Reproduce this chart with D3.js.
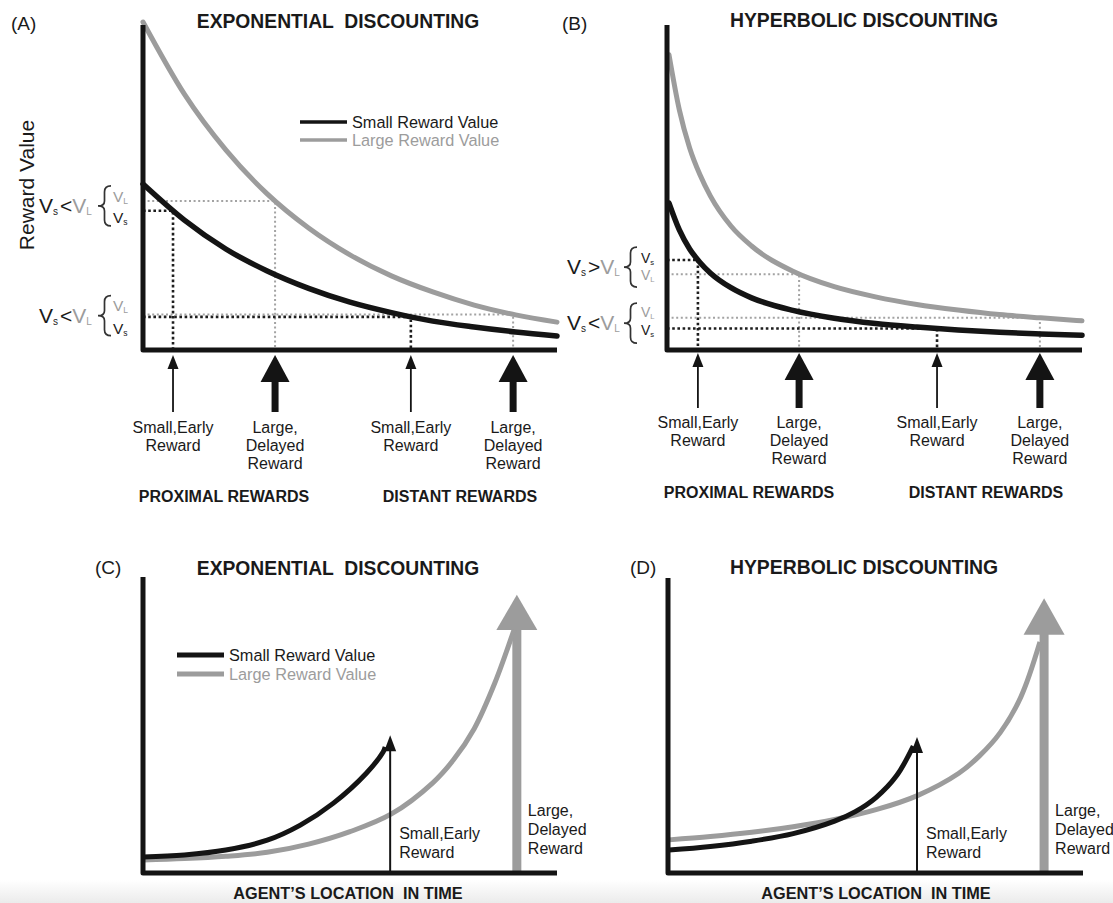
<!DOCTYPE html>
<html><head><meta charset="utf-8">
<script src="https://cdn.jsdelivr.net/npm/d3@7/dist/d3.min.js"></script>
<style>
body{margin:0;background:#fff}
svg{display:block}
text{font-family:"Liberation Sans",Arial,Helvetica,sans-serif;white-space:pre}
</style>
</head><body>
<svg id="c" width="1113" height="903"></svg>
<script>
// ---------------- DATA ----------------
// Panel A: exponential discounting, value vs. time (0..10)
const timeA = [0,1,2,3,4,5,6,7,8,9,10];
const largeA = [10.0,7.8,6.1,4.76,3.72,2.9,2.26,1.77,1.37,1.07,0.85];
const smallA = [5.06,3.96,3.08,2.41,1.88,1.46,1.14,0.88,0.70,0.55,0.43];
const rewardTimesA = [0.725,3.19,6.47,8.94];

// Panel B: hyperbolic discounting
const timeB = [0,0.25,0.5,0.75,1,1.5,2,3,4,5,6,7,8,9,10];
const largeB = [9.0,7.32,6.16,5.34,4.70,3.78,3.17,2.40,1.93,1.62,1.39,1.22,1.08,0.98,0.89];
const smallB = [4.48,3.66,3.08,2.67,2.35,1.90,1.59,1.21,0.97,0.81,0.70,0.61,0.54,0.49,0.45];
const rewardTimesB = [0.70,3.15,6.49,8.98];

const rewardKinds = ["small","large","small","large"];
const rewardText = {small:["Small,Early","Reward"], large:["Large,","Delayed","Reward"]};
const groupLabels = ["PROXIMAL REWARDS","DISTANT REWARDS"];

// Panel C: exponential, value vs. agent's location
const smallTimeC = [0,1,2,3,3.8,4.6,5.4,5.8,5.85];
const smallC = [0.49,0.55,0.70,1.0,1.46,2.13,3.05,3.69,3.84];
const largeTimeC = [0,1,2,3,4,5,6,7,7.5,8,8.5,8.96];
const largeC = [0.40,0.44,0.51,0.63,0.88,1.26,1.80,2.75,3.45,4.40,5.80,7.41];
const arrowsC = {small:{t:5.97, tip:4.2}, large:{t:9.03, tip:8.48, base:7.41}};

// Panel D: hyperbolic, value vs. agent's location
const smallTimeD = [0,1,2,3,4,4.5,5,5.5,5.9];
const smallD = [0.70,0.81,0.97,1.20,1.58,1.87,2.30,2.97,3.87];
const largeTimeD = [0,1,2,3,4,5,6,7,7.5,8,8.5,8.96];
const largeD = [1.01,1.11,1.24,1.41,1.63,1.93,2.36,3.04,3.57,4.28,5.37,7.04];
const arrowsD = {small:{t:5.99, tip:4.15}, large:{t:9.06, tip:8.38, base:7.26}};

const legendLabels = ["Small Reward Value","Large Reward Value"];

// ---------------- DRAW ----------------
const BLACK = "#141414", GRAY = "#9c9c9c", TXT = "#1a1a1a";
const svg = d3.select("#c");

// faint grey band at the bottom of the figure
const defs = svg.append("defs");
const grad = defs.append("linearGradient").attr("id","band").attr("x1",0).attr("x2",0).attr("y1",0).attr("y2",1);
grad.append("stop").attr("offset",0).attr("stop-color","#ffffff");
grad.append("stop").attr("offset",1).attr("stop-color","#ebebeb");
svg.append("rect").attr("x",0).attr("y",880).attr("width",1113).attr("height",23).attr("fill","url(#band)");

function scales(x0,x1,yb,yt){
  return {x:d3.scaleLinear().domain([0,10]).range([x0,x1]),
          y:d3.scaleLinear().domain([0,10]).range([yb,yt])};
}
const A = scales(143,557,350,22);
const B = scales(669,1082,350,22);
const C = scales(143,557,873,545);
const D = scales(669,1083,873,545);

function lineGen(s,curve){ return d3.line().x(d=>s.x(d[0])).y(d=>s.y(d[1])).curve(curve||d3.curveMonotoneX); }

function yAtX(node,x){
  const L=node.getTotalLength(); let lo=0,hi=L;
  for(let i=0;i<40;i++){const m=(lo+hi)/2; if(node.getPointAtLength(m).x<x) lo=m; else hi=m;}
  return node.getPointAtLength((lo+hi)/2).y;
}

function text(g,x,y,str,opt={}){
  return g.append("text").attr("x",x).attr("y",y).text(str)
    .attr("font-size",opt.size||16).attr("font-weight",opt.bold?"bold":"normal")
    .attr("fill",opt.fill||TXT).attr("text-anchor",opt.anchor||"start");
}

function axes(g,ax,top,base,right){
  g.append("path").attr("d",`M${ax},${top}L${ax},${base}L${right},${base}`)
   .attr("fill","none").attr("stroke",BLACK).attr("stroke-width",5).attr("stroke-linejoin","round");
}

function upArrow(g,x,yb,tip,hw,hh,sw,col){
  g.append("line").attr("x1",x).attr("x2",x).attr("y1",yb).attr("y2",tip+hh-1)
   .attr("stroke",col).attr("stroke-width",sw);
  g.append("path").attr("d",`M${x},${tip}L${x+hw/2},${tip+hh}L${x-hw/2},${tip+hh}Z`).attr("fill",col);
}

function brace(g,xr,yt,yb,w){
  const m=(yt+yb)/2, xm=xr-w/2, xl=xr-w;
  g.append("path").attr("d",
    `M${xr},${yt}Q${xm},${yt} ${xm},${yt+6}L${xm},${m-5}Q${xm},${m} ${xl},${m}Q${xm},${m} ${xm},${m+5}L${xm},${yb-6}Q${xm},${yb} ${xr},${yb}`)
   .attr("fill","none").attr("stroke","#333").attr("stroke-width",1.7);
}

function vLabel(g,x,y,sub,col,size){
  const t=g.append("text").attr("x",x).attr("y",y).attr("font-size",size).attr("fill",col);
  t.append("tspan").text("V");
  t.append("tspan").text(sub).attr("font-size",size*0.55).attr("dy",2);
  return t;
}

function bracketLabel(g,x0,braceR,stackX,yc,op,topIsL,offs,fs){
  const t=g.append("text").attr("x",x0).attr("y",yc+7).attr("font-size",21).attr("fill",TXT);
  t.append("tspan").text("V");
  t.append("tspan").text("s").attr("font-size",10).attr("dy",2);
  t.append("tspan").text(op).attr("dy",-2).attr("dx",2);
  t.append("tspan").text("V").attr("fill",GRAY);
  t.append("tspan").text("L").attr("font-size",10).attr("dy",2).attr("fill",GRAY);
  brace(g,braceR,yc-20,yc+20,13);
  if(topIsL){
    vLabel(g,stackX,yc+offs[0],"L",GRAY,fs);
    vLabel(g,stackX,yc+offs[1],"s",TXT,fs);
  } else {
    vLabel(g,stackX,yc+offs[0],"s",TXT,fs);
    vLabel(g,stackX,yc+offs[1],"L",GRAY,fs);
  }
}

// ----- Panels A & B -----
function discountPanel(s,time,large,small,rtimes,cfg){
  const g=svg.append("g");
  const series=[{v:small,col:BLACK,w:5.5},{v:large,col:GRAY,w:5}];
  const lg=lineGen(s);
  const paths=series.map(se=>g.append("path").attr("d",lg(time.map((t,i)=>[t,se.v[i]]))).attr("fill","none").attr("stroke","none"));
  const ax=cfg.axisX, base=s.y(0);
  const levels=[];
  rtimes.forEach((t,i)=>{
    const kind=rewardKinds[i];
    const node=(kind==="small"?paths[0]:paths[1]).node();
    const xr=s.x(t), yr=yAtX(node,xr);
    levels.push(yr);
    const sty = kind==="small" ? {c:"#1e1e1e",w:2.6,d:"2.6,2.6"} : {c:"#a3a3a3",w:2,d:"2,2.6"};
    g.append("path").attr("d",`M${ax},${yr}L${xr},${yr}L${xr},${base}`)
      .attr("fill","none").attr("stroke",sty.c).attr("stroke-width",sty.w).attr("stroke-dasharray",sty.d);
  });
  [1,0].forEach(k=>paths[k].attr("stroke",series[k].col).attr("stroke-width",series[k].w).attr("stroke-linecap","round"));
  paths[1].raise(); paths[0].raise();
  axes(g,ax,cfg.axisTop,base,s.x(10));
  rtimes.forEach((t,i)=>{
    const kind=rewardKinds[i], x=s.x(t);
    if(kind==="small") upArrow(g,x,cfg.arrowBottom,cfg.arrowTip,11,14,1.8,BLACK);
    else upArrow(g,x,cfg.arrowBottom,cfg.arrowTip,29,27,7,BLACK);
    rewardText[kind].forEach((str,j)=>text(g,x,cfg.labelY+j*18,str,{anchor:"middle",size:16}));
  });
  groupLabels.forEach((str,j)=>text(g,cfg.groupX[j],cfg.groupY,str,{anchor:"middle",size:16,bold:true}));
  return {g,levels};
}

const pA=discountPanel(A,timeA,largeA,smallA,rewardTimesA,
  {axisX:143,axisTop:25,arrowBottom:412,arrowTip:355,labelY:433,groupX:[224,460],groupY:502});
const pB=discountPanel(B,timeB,largeB,smallB,rewardTimesB,
  {axisX:667,axisTop:25,arrowBottom:408,arrowTip:353,labelY:428,groupX:[749,986],groupY:498});

text(svg,11,30,"(A)",{size:19});
text(svg,338,28,"EXPONENTIAL  DISCOUNTING",{size:19.3,bold:true,anchor:"middle"});
text(svg,562,30,"(B)",{size:19});
text(svg,864,27,"HYPERBOLIC DISCOUNTING",{size:19.4,bold:true,anchor:"middle"});
svg.append("text").attr("transform","translate(34,185) rotate(-90)").attr("text-anchor","middle")
  .attr("font-size",21).attr("fill",TXT).text("Reward Value");

// legend A
[[BLACK,TXT],[GRAY,GRAY]].forEach((c,i)=>{
  svg.append("line").attr("x1",300).attr("x2",347).attr("y1",122+i*18).attr("y2",122+i*18)
    .attr("stroke",c[0]).attr("stroke-width",3.5);
  text(svg,352,128+i*18,legendLabels[i],{size:16.3,fill:c[1]});
});

// bracket labels (levels: [small-prox, large-prox, small-dist, large-dist])
bracketLabel(svg,39,111,113,(pA.levels[0]+pA.levels[1])/2,"<",true,[-4,17],15.5);
bracketLabel(svg,39,111,113,(pA.levels[2]+pA.levels[3])/2,"<",true,[-5,18],15.5);
bracketLabel(svg,567,637,641,(pB.levels[0]+pB.levels[1])/2,">",false,[-4,13],14);
bracketLabel(svg,567,637,641,(pB.levels[2]+pB.levels[3])/2,"<",true,[-6,12],14);

// ----- Panels C & D -----
function locationPanel(s,st,sv,lt,lv,arr,cfg){
  const g=svg.append("g");
  const lg=lineGen(s,d3.curveCatmullRom.alpha(0.5));
  const xl=s.x(arr.large.t);
  upArrow(g,xl,s.y(0),s.y(arr.large.tip),41,s.y(arr.large.base)-s.y(arr.large.tip),9,GRAY);
  g.append("path").attr("d",lg(lt.map((t,i)=>[t,lv[i]]))).attr("fill","none").attr("stroke",GRAY).attr("stroke-width",5);
  g.append("path").attr("d",lg(st.map((t,i)=>[t,sv[i]]))).attr("fill","none").attr("stroke",BLACK).attr("stroke-width",5);
  const xs=s.x(arr.small.t);
  upArrow(g,xs,s.y(0),s.y(arr.small.tip),12,16,2,BLACK);
  axes(g,cfg.axisX,cfg.axisTop,s.y(0),s.x(10));
  rewardText.small.forEach((str,j)=>text(g,xs+9,839+j*19,str,{size:16}));
  rewardText.large.forEach((str,j)=>text(g,xl+11,816+j*19,str,{size:16}));
  text(g,cfg.bottomX,899,"AGENT\u2019S LOCATION  IN TIME",{size:16.3,bold:true,anchor:"middle"});
  return g;
}
locationPanel(C,smallTimeC,smallC,largeTimeC,largeC,arrowsC,{axisX:143,axisTop:577,bottomX:348});
locationPanel(D,smallTimeD,smallD,largeTimeD,largeD,arrowsD,{axisX:668,axisTop:578,bottomX:876});

text(svg,95,574,"(C)",{size:19});
text(svg,338,575,"EXPONENTIAL  DISCOUNTING",{size:19.3,bold:true,anchor:"middle"});
text(svg,630,574,"(D)",{size:19});
text(svg,864,574,"HYPERBOLIC DISCOUNTING",{size:19.4,bold:true,anchor:"middle"});

// legend C
[[BLACK,TXT],[GRAY,GRAY]].forEach((c,i)=>{
  svg.append("line").attr("x1",177).attr("x2",224).attr("y1",655+i*19).attr("y2",655+i*19)
    .attr("stroke",c[0]).attr("stroke-width",5);
  text(svg,229,661+i*19,legendLabels[i],{size:16.3,fill:c[1]});
});
</script>
</body></html>
